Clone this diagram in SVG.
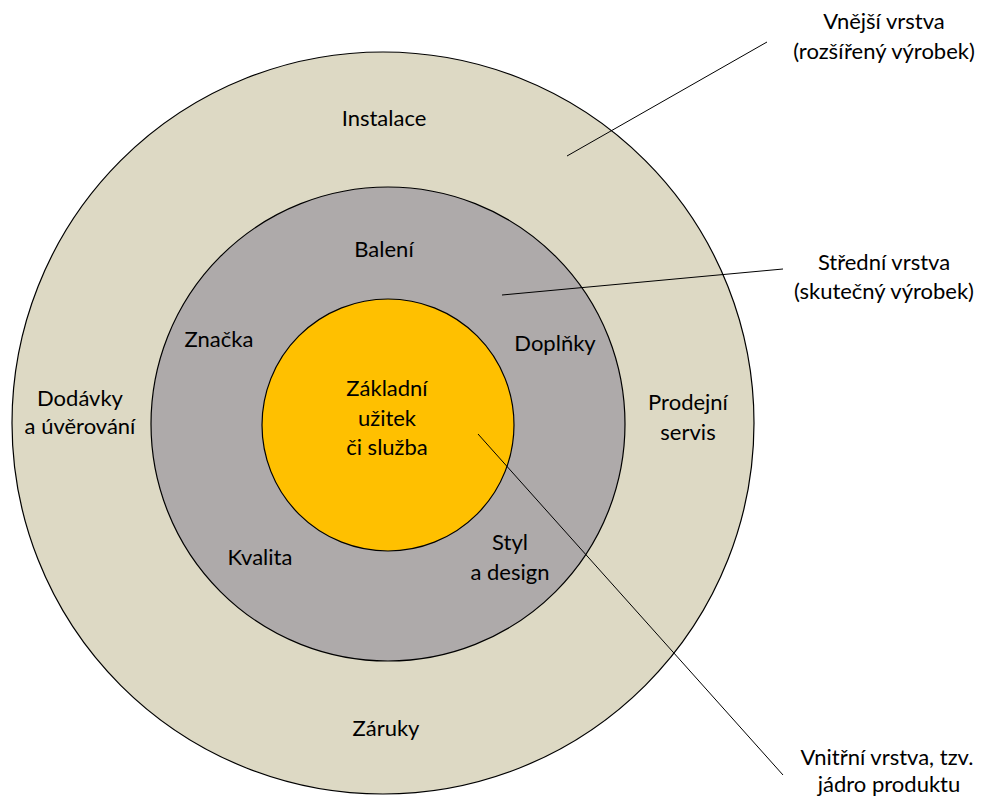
<svg xmlns="http://www.w3.org/2000/svg" width="983" height="799" viewBox="0 0 983 799">
<style>
.t{font-family:Lato,"Liberation Sans",sans-serif;font-size:22px;fill:#000;text-anchor:middle}
.c{stroke:#000;stroke-width:1.2}
.l{stroke:#000;stroke-width:1;fill:none}
</style>
<rect width="983" height="799" fill="#fff"/>
<g id="outer">
<circle class="c" cx="383" cy="423" r="371" fill="#DDD9C4"/>
<text class="t" x="384" y="126">Instalace</text>
<text class="t" x="80" y="406">Dodávky</text>
<text class="t" x="80" y="434">a úvěrování</text>
<text class="t" x="688" y="410">Prodejní</text>
<text class="t" x="688" y="440">servis</text>
<text class="t" x="386" y="736">Záruky</text>
</g>
<g id="middle">
<circle class="c" cx="388" cy="424" r="237" fill="#AEAAAA"/>
<text class="t" x="384" y="257">Balení</text>
<text class="t" x="219" y="347">Značka</text>
<text class="t" x="555" y="351">Doplňky</text>
<text class="t" x="260" y="565">Kvalita</text>
<text class="t" x="510" y="550">Styl</text>
<text class="t" x="510" y="580">a design</text>
</g>
<g id="inner">
<circle class="c" cx="388" cy="425" r="126" fill="#FFC000"/>
<text class="t" x="387" y="396">Základní</text>
<text class="t" x="387" y="426">užitek</text>
<text class="t" x="387" y="455">či služba</text>
</g>
<g id="connectors">
<line class="l" x1="567" y1="156" x2="767" y2="42"/>
<line class="l" x1="502" y1="295" x2="783" y2="269"/>
<line class="l" x1="478" y1="434" x2="783" y2="775"/>
</g>
<g id="label-outer">
<text class="t" x="884" y="29">Vnější vrstva</text>
<text class="t" x="884" y="59">(rozšířený výrobek)</text>
</g>
<g id="label-middle">
<text class="t" x="884" y="270">Střední vrstva</text>
<text class="t" x="884" y="299">(skutečný výrobek)</text>
</g>
<g id="label-inner">
<text class="t" x="887" y="765">Vnitřní vrstva, tzv.</text>
<text class="t" x="889" y="792">jádro produktu</text>
</g>
</svg>
